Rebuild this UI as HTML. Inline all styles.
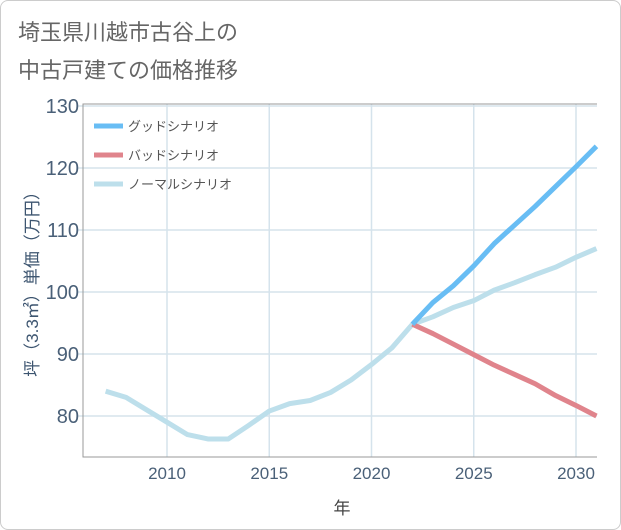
<!DOCTYPE html>
<html><head><meta charset="utf-8">
<style>
body{margin:0;background:#fff;font-family:"Liberation Sans","Noto Sans CJK JP",sans-serif;}
#card{position:absolute;left:0;top:0;width:619px;height:528px;border:1px solid #ccc;border-radius:8px;background:#fff;}
</style></head><body>
<div id="card"></div>
<svg id="chart" width="621" height="530" style="position:absolute;left:0;top:0">
<text x="18" y="40" font-size="22" fill="#666">埼玉県川越市古谷上の</text>
<text x="18" y="78" font-size="22" fill="#666">中古戸建ての価格推移</text>
<g id="grid"></g>
<g id="series"></g>
<g id="legend"></g>
<text x="342" y="514" font-size="17" fill="#444" text-anchor="middle">年</text>
<text transform="translate(38,280) rotate(-90)" font-size="17" fill="#3d5570" text-anchor="middle">坪（3.3㎡）単価（万円）</text>
</svg>
<script>
const years=[2007,2008,2009,2010,2011,2012,2013,2014,2015,2016,2017,2018,2019,2020,2021,2022,2023,2024,2025,2026,2027,2028,2029,2030,2031];
const normal=[84,83,81,79,77,76.3,76.3,78.5,80.8,82,82.5,83.8,85.8,88.3,91,94.8,96,97.5,98.6,100.3,101.5,102.8,104,105.6,107];
const futureYears=[2022,2023,2024,2025,2026,2027,2028,2029,2030,2031];
const good=[94.8,98.3,101,104.2,107.8,110.8,113.8,117,120.2,123.5];
const bad=[94.8,93.3,91.6,89.9,88.2,86.7,85.2,83.3,81.7,80];
const xTicks=[2010,2015,2020,2025,2030];
const yTicks=[80,90,100,110,120,130];
const legendLabels=["グッドシナリオ","バッドシナリオ","ノーマルシナリオ"];
const NS="http://www.w3.org/2000/svg";
const L=83,R=597,T=104,B=457;
const xs=y=>167+(y-2010)*(576-167)/20;
const ys=v=>416-(v-80)*6.2;
function mk(tag,attrs,parent){const e=document.createElementNS(NS,tag);for(const k in attrs)e.setAttribute(k,attrs[k]);parent.appendChild(e);return e;}
const grid=document.getElementById('grid');
xTicks.forEach(t=>{
  const l=mk('line',{x1:xs(t),x2:xs(t),y1:T,y2:B,stroke:'#d5e3ec','stroke-width':1.5},grid);
  
  
  const tx=mk('text',{x:xs(t),y:479,'font-size':17,fill:'#4a6078','text-anchor':'middle'},grid);
  tx.textContent=t;
  
  
});
yTicks.forEach(t=>{
  const l=mk('line',{x1:L-6,x2:R,y1:ys(t),y2:ys(t),stroke:'#d5e3ec','stroke-width':1.5},grid);
  
  
  const tx=mk('text',{x:L-4,y:ys(t)+7,'font-size':20,fill:'#4a6078','text-anchor':'end'},grid);
  tx.textContent=t;
  
  
});
const ax=mk('path',{d:`M${R},${T}H${L}V${B}H${R}`,fill:'none',stroke:'#999','stroke-width':1},grid);


const ser=document.getElementById('series');
function line(xv,yv,color,name){
  const p=mk('polyline',{points:xv.map((x,i)=>xs(x)+','+ys(yv[i])).join(' '),fill:'none',stroke:color,'stroke-width':5,'stroke-linejoin':'round'},ser);
  
  
}
line(years,normal,'#bddfeb','normal-scenario-line');
line(futureYears,bad,'#e0848c','bad-scenario-line');
line(futureYears,good,'#68bdf4','good-scenario-line');
const lg=document.getElementById('legend');
const lc=['#68bdf4','#e0848c','#bddfeb'];
legendLabels.forEach((s,i)=>{
  const y=126+i*29;
  const l=mk('line',{x1:94,x2:123,y1:y,y2:y,stroke:lc[i],'stroke-width':5},lg);
  
  
  const t=mk('text',{x:128,y:y+5,'font-size':13,fill:'#555'},lg);
  t.textContent=s;
  
  
});
</script>
</body></html>
